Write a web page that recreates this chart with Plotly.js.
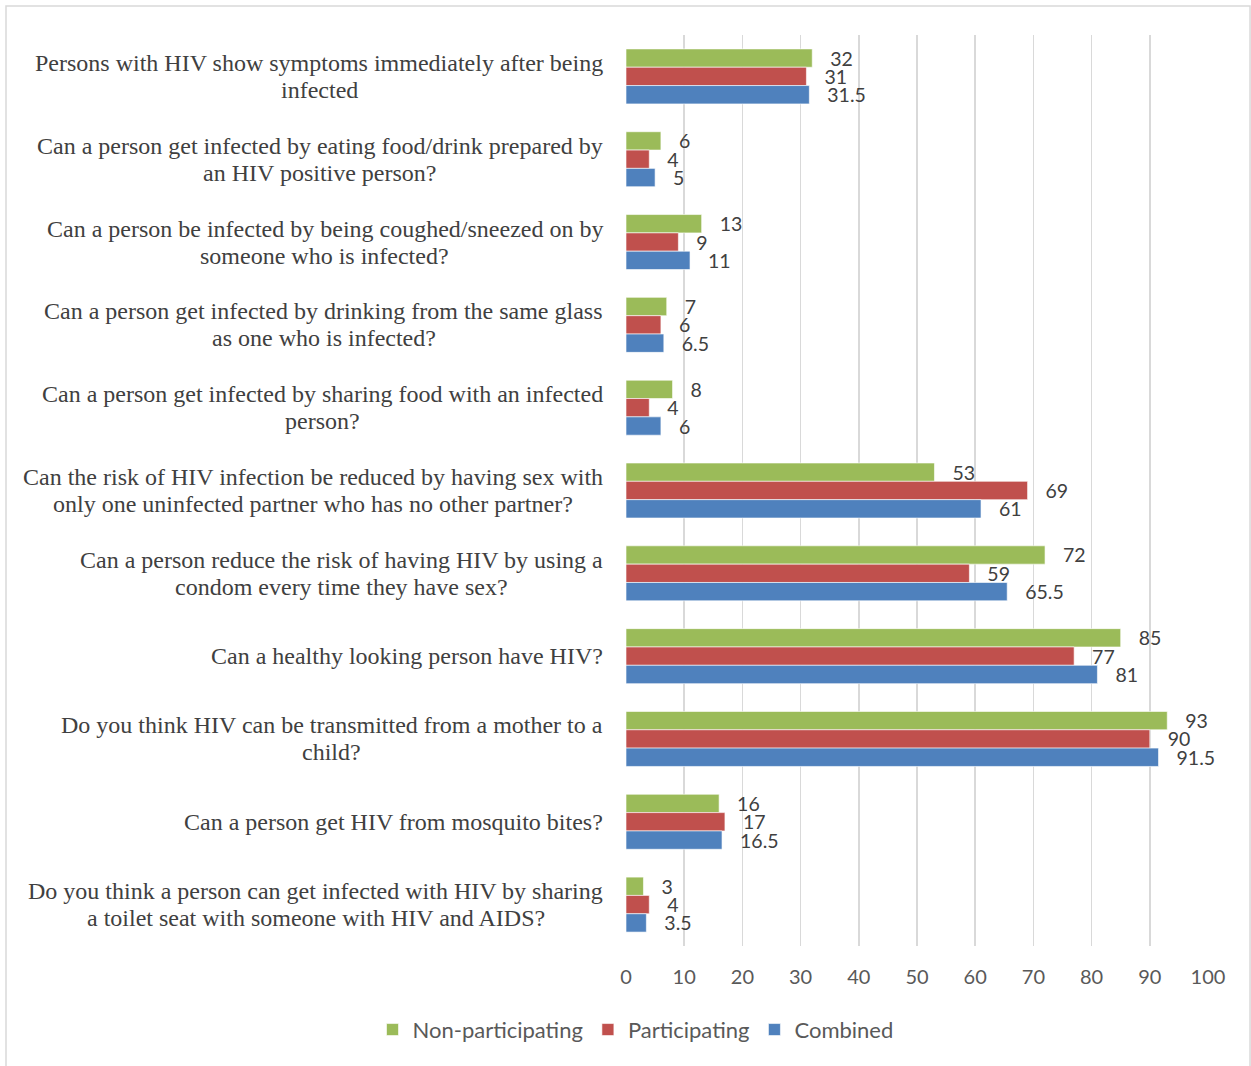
<!DOCTYPE html>
<html>
<head>
<meta charset="utf-8">
<script src="https://cdn.plot.ly/plotly-3.0.1.min.js"></script>
<style>
html,body{margin:0;padding:0;background:#fff;}
#chart{width:1251px;height:1066px;}
</style>
</head>
<body>
<div id="chart"></div>
<script>
const categories = [
  "Persons with HIV show symptoms immediately after being<br>infected",
  "Can a person get infected by eating food/drink prepared by<br>an HIV positive person?",
  "Can a person be infected by being coughed/sneezed on by<br>someone who is infected?",
  "Can a person get infected by drinking from the same glass<br>as one who is infected?",
  "Can a person get infected by sharing food with an infected<br>person?",
  "Can the risk of HIV infection be reduced by having sex with<br>only one uninfected partner who has no other partner?",
  "Can a person reduce the risk of having HIV by using a<br>condom every time they have sex?",
  "Can a healthy looking person have HIV?",
  "Do you think HIV can be transmitted from a mother to a<br>child?",
  "Can a person get HIV from mosquito bites?",
  "Do you think a person can get infected with HIV by sharing<br>a toilet seat with someone with HIV and AIDS?"
];
const seriesNames = ["Non-participating", "Participating", "Combined"];
const nonParticipating = [32, 6, 13, 7, 8, 53, 72, 85, 93, 16, 3];
const participating    = [31, 4, 9, 6, 4, 69, 59, 77, 90, 17, 4];
const combined         = [31.5, 5, 11, 6.5, 6, 61, 65.5, 81, 91.5, 16.5, 3.5];
const xTicks = [0, 10, 20, 30, 40, 50, 60, 70, 80, 90, 100];

const colors = ["#9BBB59", "#C0504D", "#4F81BD"];
const valueSets = [nonParticipating, participating, combined];

const traces = valueSets.map((vals, i) => ({
  type: "bar",
  orientation: "h",
  name: seriesNames[i],
  y: categories,
  x: vals,
  marker: {color: colors[i], line: {color: "rgba(255,255,255,0.6)", width: 1}},
  text: vals.map(String),
  texttemplate: "\u00a0\u00a0\u00a0%{text}",
  textposition: "outside",
  constraintext: "none",
  textfont: {family: "Lato, sans-serif", size: 19.5, color: "#404040"},
  cliponaxis: false,
  hoverinfo: "x+name"
}));

const LINE_GAP = 27;
const annotations = [];
categories.forEach(c => {
  const lines = c.split("<br>");
  const n = lines.length;
  lines.forEach((ln, k) => {
    annotations.push({
      xref: "paper", yref: "y",
      x: 0, y: c,
      xanchor: "right", yanchor: "middle",
      xshift: -21,
      yshift: ((n - 1) / 2 - k) * LINE_GAP,
      showarrow: false,
      text: ln,
      font: {family: "Liberation Serif, 'Times New Roman', serif", size: 24, color: "#404040"}
    });
  });
});

const layout = {
  width: 1251, height: 1066,
  margin: {l: 626, r: 43, t: 35, b: 120},
  paper_bgcolor: "#ffffff",
  plot_bgcolor: "#ffffff",
  barmode: "group",
  bargap: 0.336,
  bargroupgap: 0,
  xaxis: {
    range: [0, 100],
    tickvals: xTicks,
    ticktext: xTicks.map(String),
    showgrid: true,
    gridcolor: "#D9D9D9",
    gridwidth: 1.5,
    zeroline: false,
    showline: false,
    ticks: "",
    ticklabelstandoff: 17,
    tickfont: {family: "Lato, sans-serif", size: 20, color: "#595959"}
  },
  yaxis: {
    autorange: "reversed",
    showticklabels: false,
    showgrid: false,
    zeroline: false,
    showline: false,
    ticks: ""
  },
  showlegend: true,
  legend: {
    orientation: "h",
    xref: "container", yref: "container",
    x: 0.508, xanchor: "center",
    y: 0.034, yanchor: "middle",
    font: {family: "Lato, sans-serif", size: 22, color: "#595959"},
    traceorder: "normal",
    itemwidth: 30
  },
  annotations: annotations,
  shapes: [{
    type: "rect", xref: "paper", yref: "paper",
    x0: -1.0653, x1: 1.0722, y0: -0.14, y1: 1.0318,
    line: {color: "#D9D9D9", width: 1.5},
    fillcolor: "rgba(0,0,0,0)",
    layer: "below"
  }]
};

Plotly.newPlot("chart", traces, layout, {displayModeBar: false, staticPlot: true}).then(gd => {
  // center the lines of each multi-line label block on one another
  const nodes = gd.querySelectorAll(".annotation-text");
  const widths = Array.from(nodes).map(n => n.getBBox().width);
  let idx = 0;
  const updates = {};
  categories.forEach(c => {
    const n = c.split("<br>").length;
    const w = widths.slice(idx, idx + n);
    const maxW = Math.max(...w);
    for (let k = 0; k < n; k++) {
      updates["annotations[" + (idx + k) + "].xshift"] = -21 - (maxW - w[k]) / 2;
    }
    idx += n;
  });
  return Plotly.relayout(gd, updates);
});
</script>
</body>
</html>
